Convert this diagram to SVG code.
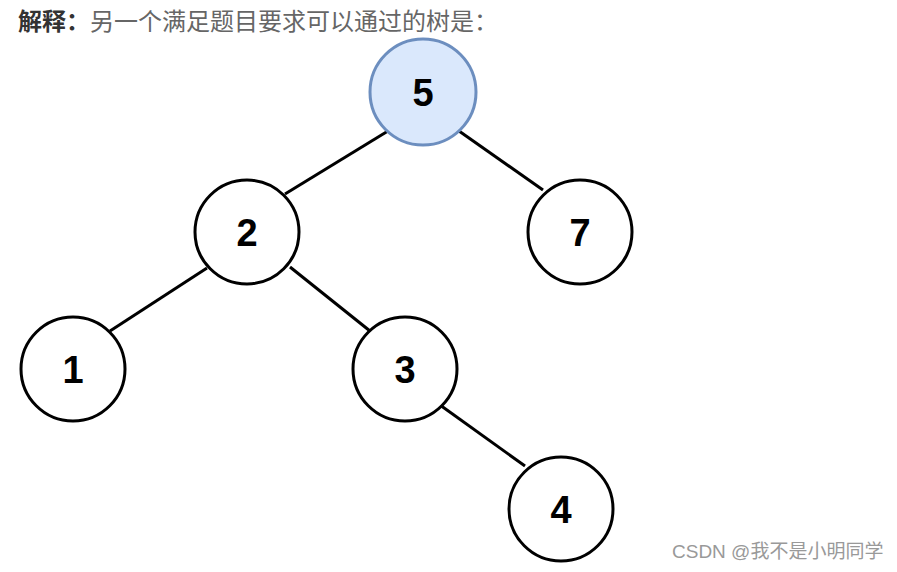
<svg xmlns="http://www.w3.org/2000/svg" width="897" height="572" viewBox="0 0 897 572">
<style>
.n{fill:#fff;stroke:#000;stroke-width:3}
.r{fill:#dae8fc;stroke:#6c8ebf;stroke-width:3}
.t{font-family:"Liberation Sans",Arial,sans-serif;font-weight:bold;font-size:38px;fill:#000;text-anchor:middle}
.e{stroke:#000;stroke-width:3;fill:none}
</style>
<rect width="897" height="572" fill="#fff"/>
<text x="18" y="30" font-family="'Noto Sans CJK SC',sans-serif" font-size="24" fill="#333"><tspan font-weight="bold">解释：</tspan><tspan fill="#666">另一个满足题目要求可以通过的树是：</tspan></text>
<g id="edges">
<line class="e" x1="388" y1="131" x2="285" y2="194"/>
<line class="e" x1="459" y1="131" x2="543" y2="190"/>
<line class="e" x1="207" y1="268" x2="110" y2="331"/>
<line class="e" x1="290" y1="267" x2="370" y2="331"/>
<line class="e" x1="440" y1="405" x2="525" y2="466"/>
</g>
<g id="n5"><circle class="r" cx="423" cy="92" r="53"/><text class="t" x="423" y="106">5</text></g>
<g id="n2"><circle class="n" cx="247" cy="232" r="52"/><text class="t" x="247" y="246">2</text></g>
<g id="n7"><circle class="n" cx="580" cy="232" r="52"/><text class="t" x="580" y="246">7</text></g>
<g id="n1"><circle class="n" cx="73" cy="369" r="52"/><text class="t" x="73" y="383">1</text></g>
<g id="n3"><circle class="n" cx="405" cy="369" r="52"/><text class="t" x="405" y="383">3</text></g>
<g id="n4"><circle class="n" cx="561" cy="509" r="52"/><text class="t" x="561" y="523">4</text></g>
<text x="672" y="558" font-family="'Liberation Sans','Noto Sans CJK SC',sans-serif" font-size="19" fill="#999">CSDN @我不是小明同学</text>
</svg>
